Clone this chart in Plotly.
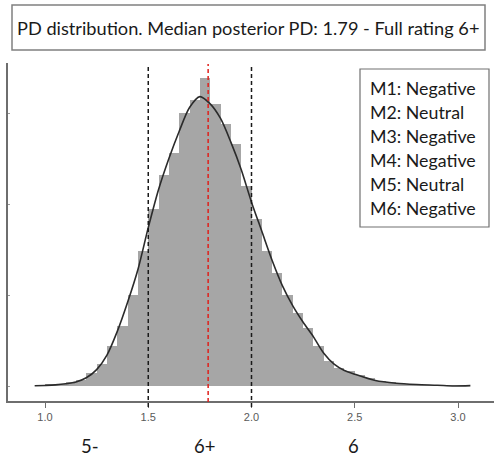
import plotly.graph_objects as go

# ---- data ----
bin_left = [0.95, 1.00, 1.05, 1.10, 1.15, 1.20, 1.25, 1.30, 1.35, 1.40,
            1.45, 1.50, 1.55, 1.60, 1.65, 1.70, 1.75, 1.80, 1.85, 1.90,
            1.95, 2.00, 2.05, 2.10, 2.15, 2.20, 2.25, 2.30, 2.35, 2.40,
            2.45, 2.50, 2.55, 2.60, 2.65, 2.70, 2.75, 2.80, 2.85, 2.90,
            2.95, 3.00]
bin_density = [0.005, 0.008, 0.012, 0.02, 0.035, 0.07, 0.12, 0.22, 0.33, 0.50,
               0.74, 0.97, 1.16, 1.28, 1.50, 1.57, 1.69, 1.55, 1.44, 1.33,
               1.10, 0.92, 0.74, 0.62, 0.50, 0.40, 0.32, 0.22, 0.14, 0.10,
               0.08, 0.06, 0.045, 0.03, 0.02, 0.012, 0.008, 0.005, 0.004, 0.003,
               0.002, 0.001]
bin_width = 0.05

kde_x = [0.95, 1.00, 1.05, 1.10, 1.15, 1.20, 1.25, 1.30, 1.35, 1.40,
         1.45, 1.50, 1.55, 1.60, 1.65, 1.70, 1.75, 1.80, 1.85, 1.90,
         1.95, 2.00, 2.05, 2.10, 2.15, 2.20, 2.25, 2.30, 2.35, 2.40,
         2.45, 2.50, 2.60, 2.70, 2.80, 2.90, 2.98, 3.06]
kde_y = [0.001, 0.003, 0.006, 0.012, 0.022, 0.045, 0.09, 0.17, 0.30, 0.46,
         0.64, 0.87, 1.08, 1.25, 1.40, 1.53, 1.59, 1.55, 1.47, 1.34,
         1.19, 1.01, 0.85, 0.69, 0.55, 0.44, 0.35, 0.27, 0.18, 0.12,
         0.085, 0.065, 0.03, 0.015, 0.008, 0.004, 0.0, 0.002]

x_ticks = [1.0, 1.5, 2.0, 2.5, 3.0]
x_tick_labels = ["1.0", "1.5", "2.0", "2.5", "3.0"]
y_ticks = [0, 0.5, 1.0, 1.5]

bounds = [1.5, 2.0]
median_pd = 1.79
rating_labels = ["5-", "6+", "6"]
rating_pos = [1.218, 1.77, 2.496]

title_text = "PD distribution. Median posterior PD: 1.79 - Full rating 6+"
legend_lines = ["M1: Negative", "M2: Neutral", "M3: Negative",
                "M4: Negative", "M5: Neutral", "M6: Negative"]

# ---- layout helpers (pixel -> paper) ----
W, H = 494, 458
ML, MR, MT, MB = 8, 0, 63, 57
PW, PH = W - ML - MR, H - MT - MB


def px(xp):
    return (xp - ML) / PW


def py(yp):
    return (H - MB - yp) / PH


FONT = "Lato"

fig = go.Figure()
fig.add_trace(go.Bar(
    x=[b + bin_width / 2 for b in bin_left], y=bin_density, width=bin_width,
    marker=dict(color="#a6a6a6", line=dict(width=0)), showlegend=False,
    hoverinfo="skip"))
fig.add_trace(go.Scatter(
    x=kde_x, y=kde_y, mode="lines", line=dict(color="#2b2b2b", width=1.6, shape="spline", smoothing=0.8),
    showlegend=False, hoverinfo="skip"))

shapes = []
for b in bounds:
    shapes.append(dict(type="line", xref="x", yref="paper", x0=b, x1=b,
                       y0=py(407), y1=py(64),
                       line=dict(color="#1a1a1a", width=1.5, dash="4px,3px")))
shapes.append(dict(type="line", xref="x", yref="paper", x0=median_pd, x1=median_pd,
                   y0=py(402), y1=py(64),
                   line=dict(color="#e0201b", width=1.5, dash="4px,3px")))
# title box
shapes.append(dict(type="rect", xref="paper", yref="paper",
                   x0=px(12), x1=px(485), y0=py(50), y1=py(5),
                   line=dict(color="#808080", width=1.5), fillcolor="white", layer="above"))
# legend box
shapes.append(dict(type="rect", xref="paper", yref="paper",
                   x0=px(360), x1=px(489), y0=py(227), y1=py(69),
                   line=dict(color="#707070", width=1.2), fillcolor="white", layer="above"))

annotations = [dict(text=title_text, xref="paper", yref="paper", x=px(248), y=py(28),
                    showarrow=False, xanchor="center", yanchor="middle",
                    font=dict(family=FONT, size=18.2, color="#1a1a1a"))]
for i, t in enumerate(legend_lines):
    annotations.append(dict(text=t, xref="paper", yref="paper", x=px(368), y=py(88 + 24 * i),
                            showarrow=False, xanchor="left", yanchor="middle",
                            font=dict(family=FONT, size=17.8, color="#1a1a1a")))
for lab, pos in zip(rating_labels, rating_pos):
    annotations.append(dict(text=lab, xref="x", yref="paper", x=pos, y=py(446),
                            showarrow=False, xanchor="center", yanchor="middle",
                            font=dict(family=FONT, size=18.5, color="#1a1a1a")))

x0v = 1 + (ML - 45) / 206.5
x1v = 1 + (W - MR - 45) / 206.5
y0v = (386 - 401) / 182
y1v = (386 - 63) / 182

fig.update_layout(
    width=W, height=H, margin=dict(l=ML, r=MR, t=MT, b=MB),
    paper_bgcolor="white", plot_bgcolor="white", bargap=0,
    shapes=shapes, annotations=annotations,
    xaxis=dict(range=[x0v, x1v], tickvals=x_ticks, ticktext=x_tick_labels,
               showgrid=False, zeroline=False, showline=True, linecolor="#6e6e6e",
               linewidth=2, ticks="outside", ticklen=5, tickcolor="#6e6e6e",
               tickfont=dict(family="Liberation Sans", size=11, color="#5a5a5a")),
    yaxis=dict(range=[y0v, y1v], tickvals=y_ticks, showticklabels=False,
               showgrid=False, zeroline=False, showline=True, linecolor="#6e6e6e",
               linewidth=2, ticks="inside", ticklen=2, tickcolor="#9a9a9a"),
)

fig.write_html("out.html")
